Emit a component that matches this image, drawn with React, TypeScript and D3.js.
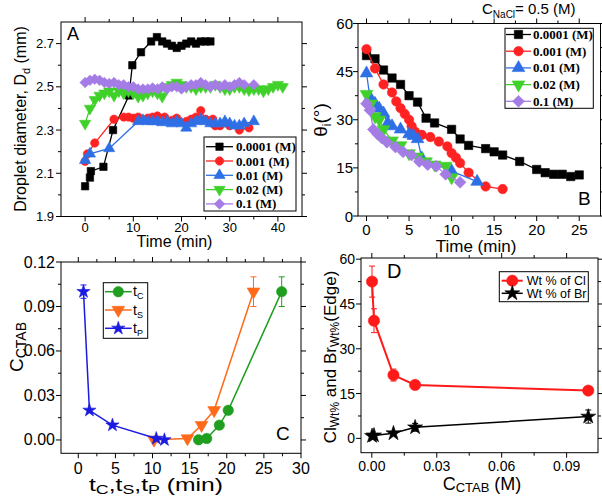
import React from "react";
import * as d3 from "d3";

// ---------- Panel A: droplet diameter vs time ----------
const seriesLabels = ["0.0001 (M)", "0.001 (M)", "0.01 (M)", "0.02 (M)", "0.1 (M)"];

const aTime1 = [0, 1, 1.2, 3.8, 5.8, 9.1, 9.8, 11.6, 13.7, 14.9, 16, 17, 18, 19, 20, 21, 22, 23, 24, 25, 26];
const aDia1 = [2.04, 2.08, 2.11, 2.13, 2.3, 2.46, 2.6, 2.66, 2.71, 2.73, 2.71, 2.7, 2.69, 2.68, 2.69, 2.7, 2.71, 2.7, 2.71, 2.71, 2.71];

const aTime2 = [0, 0.5, 2, 6, 8, 9, 10, 11, 13, 14, 15, 16.5, 18, 19, 21, 22, 23, 24, 25, 26.5, 27, 28, 30, 32, 34];
const aDia2 = [2.155, 2.19, 2.24, 2.35, 2.36, 2.36, 2.355, 2.36, 2.355, 2.36, 2.365, 2.36, 2.345, 2.355, 2.34, 2.35, 2.36, 2.39, 2.35, 2.35, 2.32, 2.32, 2.32, 2.3, 2.31];

const aTime3 = [0, 1, 5, 11, 12, 13, 14, 15, 16, 17, 18, 19, 20, 21, 22, 23, 24, 25, 26, 27, 28, 29, 30, 31, 32, 33, 35];
const aDia3 = [2.16, 2.19, 2.215, 2.34, 2.345, 2.34, 2.34, 2.34, 2.335, 2.34, 2.33, 2.34, 2.33, 2.31, 2.33, 2.34, 2.35, 2.34, 2.33, 2.33, 2.33, 2.34, 2.33, 2.32, 2.32, 2.33, 2.34];

const aTime4 = [0, 1, 2, 3, 4, 5, 6, 7, 8, 9, 10, 11, 12, 13, 14, 15, 16, 17, 18, 19, 20, 21, 22, 23, 24, 25, 26, 27, 28, 29, 30, 31, 32, 33, 34, 35, 36, 37, 38, 39, 40, 41];
const aDia4 = [2.33, 2.4, 2.44, 2.46, 2.47, 2.48, 2.46, 2.48, 2.47, 2.48, 2.47, 2.455, 2.46, 2.47, 2.48, 2.47, 2.455, 2.5, 2.51, 2.52, 2.51, 2.5, 2.5, 2.49, 2.5, 2.5, 2.5, 2.51, 2.5, 2.49, 2.49, 2.5, 2.5, 2.49, 2.485, 2.49, 2.49, 2.48, 2.49, 2.5, 2.51, 2.5];

const aTime5 = [0, 1, 2, 3, 4, 5, 6, 7, 8, 9, 10, 11, 12, 13, 14, 15, 16, 17, 18, 19, 20, 21, 22, 23, 24, 25, 26, 27, 28, 29, 30, 31, 32, 33, 35];
const aDia5 = [2.52, 2.53, 2.535, 2.53, 2.52, 2.515, 2.52, 2.51, 2.51, 2.5, 2.5, 2.49, 2.49, 2.49, 2.495, 2.49, 2.5, 2.49, 2.5, 2.5, 2.49, 2.5, 2.51, 2.51, 2.52, 2.51, 2.5, 2.51, 2.5, 2.51, 2.5, 2.51, 2.52, 2.51, 2.51];

const aXTicks = [0, 10, 20, 30, 40];
const aYTicks = [1.9, 2.1, 2.3, 2.5, 2.7];

// ---------- Panel B: contact angle vs time ----------
const bTime1 = [0, 1, 2, 3, 4, 5, 6, 7, 8, 10, 11, 12, 14, 15, 16, 18, 20, 21, 22, 23, 24, 25];
const bAng1 = [50, 49, 45.5, 43, 41, 37.5, 35.5, 30.5, 29, 27, 24, 22, 21, 20, 19, 17, 14.5, 13.5, 13, 13, 12.3, 12.8];

const bTime2 = [0, 1, 2, 3, 3.5, 4, 4.5, 5, 5.3, 5.7, 6.5, 7.5, 8.5, 9.5, 10, 10.5, 11, 12, 14, 16];
const bAng2 = [52, 46, 41, 38.5, 35.7, 33.6, 31.8, 30, 28, 26.3, 25.3, 24.6, 23.2, 21.7, 19.6, 18.2, 16.5, 13.5, 9.2, 8.4];

const bTime3 = [0, 0.4, 1, 1.5, 2, 2.5, 3, 4, 5, 5.5, 6, 6.5, 10, 13];
const bAng3 = [44.5, 37, 35, 33.5, 32, 29, 28, 27, 25.5, 25, 24, 18, 14, 10.7];

const bTime4 = [0, 0.5, 1, 1.5, 2, 3, 4, 5, 6, 7, 8, 9.3, 10];
const bAng4 = [38, 35, 31, 30, 27, 23.5, 22, 19.5, 18.5, 17, 16, 15.6, 12];

const bTime5 = [0, 0.4, 0.8, 1.3, 1.8, 2.4, 3.4, 4.3, 5.3, 6.2, 7.2, 8.2, 9.3, 11];
const bAng5 = [35, 33, 27, 25.5, 24.3, 23, 21.5, 20, 19, 17, 16, 15.5, 13, 10.5];

const bXTicks = [0, 5, 10, 15, 20, 25];
const bYTicks = [0, 15, 30, 45, 60];

// ---------- Panel C: CTAB concentration vs characteristic times ----------
const cConc = [0.0001, 0.001, 0.01, 0.02, 0.1];
const cTC = [16.2, 17.3, 19.0, 20.2, 27.4];
const cTS = [10.2, 14.7, 16.6, 18.3, 23.6];
const cTP = [11.6, 10.5, 4.6, 1.5, 0.7];
const cErrC = [0, 0, 0, 0, 0.01];
const cErrS = [0, 0, 0, 0, 0.01];
const cErrP = [0, 0, 0, 0, 0.0045];
const cXTicks = [0, 5, 10, 15, 20, 25, 30];
const cYTicks = [0, 0.03, 0.06, 0.09, 0.12];

// ---------- Panel D: Cl / Br weight % at the edge ----------
const dConc = [0.0001, 0.001, 0.01, 0.02, 0.1];
const dCl = [52.5, 39.4, 21.2, 17.9, 16.0];
const dClErr = [5.2, 4, 2, 1.3, 1];
const dBr = [0.8, 1.0, 1.7, 3.7, 7.3];
const dBrErr = [0.4, 0.4, 0.5, 1.3, 2.2];
const dXTicks = [0, 0.03, 0.06, 0.09];
const dYTicks = [0, 15, 30, 45, 60];

const SANS = "'Liberation Sans', Arial, sans-serif";
const SERIF = "'Liberation Serif', 'Times New Roman', serif";

type Kind = "square" | "circle" | "triUp" | "triDown" | "diamond" | "star";

function markerPath(kind: Kind, size: number): string {
  const s = d3.symbol();
  if (kind === "square" || kind === "diamond") return s.type(d3.symbolSquare).size(size)() as string;
  if (kind === "circle") return s.type(d3.symbolCircle).size(size)() as string;
  if (kind === "star") return s.type(d3.symbolStar).size(size)() as string;
  return s.type(d3.symbolTriangle).size(size)() as string;
}
function rotOf(kind: Kind) {
  return kind === "diamond" ? 45 : kind === "triDown" ? 180 : 0;
}

function Marker({ x, y, kind, size, color }: { x: number; y: number; kind: Kind; size: number; color: string }) {
  return (
    <path
      d={markerPath(kind, size)}
      transform={`translate(${x},${y}) rotate(${rotOf(kind)})`}
      fill={color}
      stroke={color}
      strokeWidth={0.6}
    />
  );
}

function Series({ xs, ys, px, py, kind, size, color, width }: any) {
  const pts: [number, number][] = xs.map((v: number, i: number) => [px(v), py(ys[i])]);
  const line = d3.line()(pts) as string;
  return (
    <g>
      <path d={line} fill="none" stroke={color} strokeWidth={width} />
      {pts.map((p, i) => (
        <Marker key={i} x={p[0]} y={p[1]} kind={kind} size={size} color={color} />
      ))}
    </g>
  );
}

function ErrBars({ xs, ys, errs, px, py, color, cap = 3 }: any) {
  return (
    <g stroke={color} strokeWidth={1}>
      {xs.map((v: number, i: number) => {
        if (!errs[i]) return null;
        const x = px(v);
        const y1 = py(ys[i] + errs[i]);
        const y2 = py(ys[i] - errs[i]);
        return (
          <g key={i}>
            <line x1={x} x2={x} y1={y1} y2={y2} />
            <line x1={x - cap} x2={x + cap} y1={y1} y2={y1} />
            <line x1={x - cap} x2={x + cap} y1={y2} y2={y2} />
          </g>
        );
      })}
    </g>
  );
}

function minorBetween(ticks: number[]) {
  const out: number[] = [];
  for (let i = 0; i < ticks.length - 1; i++) out.push((ticks[i] + ticks[i + 1]) / 2);
  return out;
}

function Frame({ sx, sy, xTicks, yTicks, fmtX, fmtY, font, xOff, yOff }: any) {
  const [x0, x1] = sx.range();
  const [y0, y1] = sy.range(); // y0 bottom, y1 top
  const M = 5;
  const m = 3;
  const xMin = minorBetween(xTicks).filter((v: number) => sx(v) > x0 + 1 && sx(v) < x1 - 1);
  const yMin = minorBetween(yTicks).filter((v: number) => sy(v) < y0 - 1 && sy(v) > y1 + 1);
  return (
    <g>
      <rect x={x0} y={y1} width={x1 - x0} height={y0 - y1} fill="none" stroke="#000" strokeWidth={1} />
      <g stroke="#000" strokeWidth={1}>
        {xTicks.map((v: number, i: number) => (
          <g key={"x" + i}>
            <line x1={sx(v)} x2={sx(v)} y1={y0} y2={y0 + M} />
            <line x1={sx(v)} x2={sx(v)} y1={y1} y2={y1 - M} />
          </g>
        ))}
        {xMin.map((v: number, i: number) => (
          <g key={"xm" + i}>
            <line x1={sx(v)} x2={sx(v)} y1={y0} y2={y0 + m} />
            <line x1={sx(v)} x2={sx(v)} y1={y1} y2={y1 - m} />
          </g>
        ))}
        {yTicks.map((v: number, i: number) => (
          <g key={"y" + i}>
            <line y1={sy(v)} y2={sy(v)} x1={x0} x2={x0 - M} />
            <line y1={sy(v)} y2={sy(v)} x1={x1} x2={x1 + M} />
          </g>
        ))}
        {yMin.map((v: number, i: number) => (
          <g key={"ym" + i}>
            <line y1={sy(v)} y2={sy(v)} x1={x0} x2={x0 - m} />
            <line y1={sy(v)} y2={sy(v)} x1={x1} x2={x1 + m} />
          </g>
        ))}
      </g>
      <g fontFamily={SANS} fontSize={font} fill="#000">
        {xTicks.map((v: number, i: number) => (
          <text key={"xl" + i} x={sx(v)} y={y0 + xOff} textAnchor="middle">
            {fmtX(v)}
          </text>
        ))}
        {yTicks.map((v: number, i: number) => (
          <text key={"yl" + i} x={x0 - yOff} y={sy(v)} textAnchor="end" dominantBaseline="central">
            {fmtY(v)}
          </text>
        ))}
      </g>
    </g>
  );
}

const aColors = ["#000000", "#ff2222", "#2f6fe6", "#3fd12a", "#a47ce6"];
const aKinds: Kind[] = ["square", "circle", "triUp", "triDown", "diamond"];

export default function App() {
  // Panel A scales
  const ax = d3.scaleLinear().domain([-5, 45]).range([61, 302]);
  const ay = d3.scaleLinear().domain([1.9, 2.8]).range([216.5, 22]);
  // Panel B scales
  const bx = d3.scaleLinear().domain([-1, 27.5]).range([358, 600.5]);
  const by = d3.scaleLinear().domain([0, 60]).range([216, 23.5]);
  // Panel C scales
  const cx = d3.scaleLinear().domain([-2.33, 30]).range([61, 301]);
  const cy = d3.scaleLinear().domain([-0.009, 0.12]).range([453.3, 262]);
  // Panel D scales
  const dx = d3.scaleLinear().domain([-0.005, 0.1045]).range([361, 598]);
  const dy = d3.scaleLinear().domain([-4.8, 60.4]).range([452.7, 258]);

  const aData = [
    [aTime1, aDia1],
    [aTime2, aDia2],
    [aTime3, aDia3],
    [aTime4, aDia4],
    [aTime5, aDia5],
  ];
  const bData = [
    [bTime1, bAng1],
    [bTime2, bAng2],
    [bTime3, bAng3],
    [bTime4, bAng4],
    [bTime5, bAng5],
  ];

  const cGreen = "#1f9e1f";
  const cOrange = "#ff6a1a";
  const cBlue = "#1a1ae0";
  const dRed = "#ff1a1a";

  return (
    <div style={{ position: "absolute", left: 0, top: 0 }}>
      <svg width={602} height={496} style={{ display: "block", background: "#fff" }}>
        {/* ================= Panel A ================= */}
        <Frame sx={ax} sy={ay} xTicks={aXTicks} yTicks={aYTicks} fmtX={(v: number) => String(v)} fmtY={(v: number) => v.toFixed(1)} font={13} xOff={15.5} yOff={7} />
        {aData.map((d, i) => (
          <Series key={i} xs={d[0]} ys={d[1]} px={ax} py={ay} kind={aKinds[i]} size={55} color={aColors[i]} width={1.3} />
        ))}
        <text x={67} y={40} fontFamily={SANS} fontSize={18}>A</text>
        <text transform="translate(26,119) rotate(-90)" textAnchor="middle" fontFamily={SANS} fontSize={16}>
          Droplet diameter, D<tspan dy={4} fontSize={11}>d</tspan><tspan dy={-4}> (mm)</tspan>
        </text>
        <text x={174.5} y={247} textAnchor="middle" fontFamily={SANS} fontSize={16}>Time (min)</text>
        <g>
          <rect x={204} y={137} width={92} height={74} fill="#fff" stroke="#000" strokeWidth={1} />
          {seriesLabels.map((s, i) => {
            const y = 146.7 + i * 14.3;
            return (
              <g key={i}>
                <line x1={206} x2={233} y1={y} y2={y} stroke={aColors[i]} strokeWidth={1.3} />
                <Marker x={219.5} y={y} kind={aKinds[i]} size={55} color={aColors[i]} />
                <text x={236} y={y + 4.5} fontFamily={SERIF} fontWeight="bold" fontSize={13}>{s}</text>
              </g>
            );
          })}
        </g>

        {/* ================= Panel B ================= */}
        <Frame sx={bx} sy={by} xTicks={bXTicks} yTicks={bYTicks} fmtX={(v: number) => String(v)} fmtY={(v: number) => String(v)} font={15} xOff={19} yOff={5} />
        {bData.map((d, i) => (
          <Series key={i} xs={d[0]} ys={d[1]} px={bx} py={by} kind={aKinds[i]} size={70} color={aColors[i]} width={1.3} />
        ))}
        <text x={578} y={205} fontFamily={SANS} fontSize={19}>B</text>
        <text transform="translate(327,120) rotate(-90)" textAnchor="middle" fontFamily={SANS} fontSize={19}>
          θ<tspan dy={4} fontSize={12}>i</tspan><tspan dy={-4}>(°)</tspan>
        </text>
        <text x={476} y={252} textAnchor="middle" fontFamily={SANS} fontSize={17}>Time (min)</text>
        <text x={482} y={14} fontFamily={SANS} fontSize={15}>
          C<tspan dy={4} fontSize={10}>NaCl</tspan><tspan dy={-4}>= 0.5 (M)</tspan>
        </text>
        <g>
          <rect x={505} y={28.3} width={88.3} height={80} fill="#fff" stroke="#000" strokeWidth={1} />
          {seriesLabels.map((s, i) => {
            const y = 34.5 + i * 16.7;
            return (
              <g key={i}>
                <line x1={506} x2={531} y1={y} y2={y} stroke={aColors[i]} strokeWidth={1.3} />
                <Marker x={518.5} y={y} kind={aKinds[i]} size={70} color={aColors[i]} />
                <text x={533} y={y + 4.5} fontFamily={SERIF} fontWeight="bold" fontSize={13}>{s}</text>
              </g>
            );
          })}
        </g>

        {/* ================= Panel C ================= */}
        <Frame sx={cx} sy={cy} xTicks={cXTicks} yTicks={cYTicks} fmtX={(v: number) => String(v)} fmtY={(v: number) => v.toFixed(2)} font={16} xOff={21} yOff={6} />
        <ErrBars xs={cTC} ys={cConc} errs={cErrC} px={cx} py={cy} color={cGreen} />
        <ErrBars xs={cTS} ys={cConc} errs={cErrS} px={cx} py={cy} color={cOrange} />
        <ErrBars xs={cTP} ys={cConc} errs={cErrP} px={cx} py={cy} color={cBlue} />
        <Series xs={cTC} ys={cConc} px={cx} py={cy} kind="circle" size={85} color={cGreen} width={1.5} />
        <Series xs={cTS} ys={cConc} px={cx} py={cy} kind="triDown" size={70} color={cOrange} width={1.5} />
        <Series xs={cTP} ys={cConc} px={cx} py={cy} kind="star" size={55} color={cBlue} width={1.5} />
        <text x={276} y={440} fontFamily={SANS} fontSize={19}>C</text>
        <text transform="translate(23,347) rotate(-90)" textAnchor="middle" fontFamily={SANS} fontSize={19}>
          C<tspan dy={3} fontSize={14}>CTAB</tspan>
        </text>
        <text x={156} y={491} textAnchor="middle" fontFamily={SANS} fontSize={18} textLength={134} lengthAdjust="spacingAndGlyphs">
          t<tspan dy={3} fontSize={13}>C</tspan><tspan dy={-3}>,t</tspan><tspan dy={3} fontSize={13}>S</tspan><tspan dy={-3}>,t</tspan><tspan dy={3} fontSize={13}>P</tspan><tspan dy={-3}> (min)</tspan>
        </text>
        <g>
          <rect x={103.3} y={282.7} width={44.4} height={55.6} fill="#fff" stroke="#000" strokeWidth={1} />
          {[
            { c: cGreen, k: "circle" as Kind, s: "C", sz: 85 },
            { c: cOrange, k: "triDown" as Kind, s: "S", sz: 70 },
            { c: cBlue, k: "star" as Kind, s: "P", sz: 55 },
          ].map((e, i) => {
            const y = 291.7 + i * 18.3;
            return (
              <g key={i}>
                <line x1={105} x2={131.7} y1={y} y2={y} stroke={e.c} strokeWidth={1.5} />
                <Marker x={118.3} y={y} kind={e.k} size={e.sz} color={e.c} />
                <text x={133} y={y + 4.5} fontFamily={SANS} fontSize={14}>
                  t<tspan dy={3} fontSize={9}>{e.s}</tspan>
                </text>
              </g>
            );
          })}
        </g>

        {/* ================= Panel D ================= */}
        <Frame sx={dx} sy={dy} xTicks={dXTicks} yTicks={dYTicks} fmtX={(v: number) => v.toFixed(2)} fmtY={(v: number) => String(v)} font={14} xOff={18} yOff={6} />
        <ErrBars xs={dConc} ys={dCl} errs={dClErr} px={dx} py={dy} color={dRed} />
        <ErrBars xs={dConc} ys={dBr} errs={dBrErr} px={dx} py={dy} color="#000" />
        <Series xs={dConc} ys={dCl} px={dx} py={dy} kind="circle" size={100} color={dRed} width={2} />
        <Series xs={dConc} ys={dBr} px={dx} py={dy} kind="star" size={70} color="#000" width={1.5} />
        <text x={387} y={278} fontFamily={SANS} fontSize={20}>D</text>
        <text transform="translate(336,357) rotate(-90)" textAnchor="middle" fontFamily={SANS} fontSize={17}>
          Cl<tspan dy={3} fontSize={12}>Wt%</tspan><tspan dy={-3}> and Br</tspan><tspan dy={3} fontSize={12}>Wt%</tspan><tspan dy={-3}>(Edge)</tspan>
        </text>
        <text x={482} y={490} textAnchor="middle" fontFamily={SANS} fontSize={18}>
          C<tspan dy={2} fontSize={13}>CTAB</tspan><tspan dy={-2}> (M)</tspan>
        </text>
        <g>
          <rect x={499.3} y={271.7} width={89} height={30} fill="#fff" stroke="#000" strokeWidth={1} />
          <line x1={501.7} x2={522.7} y1={280.7} y2={280.7} stroke={dRed} strokeWidth={2} />
          <Marker x={512.3} y={280.7} kind="circle" size={100} color={dRed} />
          <text x={526.7} y={285} fontFamily={SANS} fontSize={12.5}>Wt % of  Cl</text>
          <line x1={501.7} x2={522.7} y1={293.3} y2={293.3} stroke="#000" strokeWidth={1.5} />
          <Marker x={512.3} y={293.3} kind="star" size={70} color="#000" />
          <text x={526.7} y={297.6} fontFamily={SANS} fontSize={12.5}>Wt % of  Br</text>
        </g>
      </svg>
    </div>
  );
}
